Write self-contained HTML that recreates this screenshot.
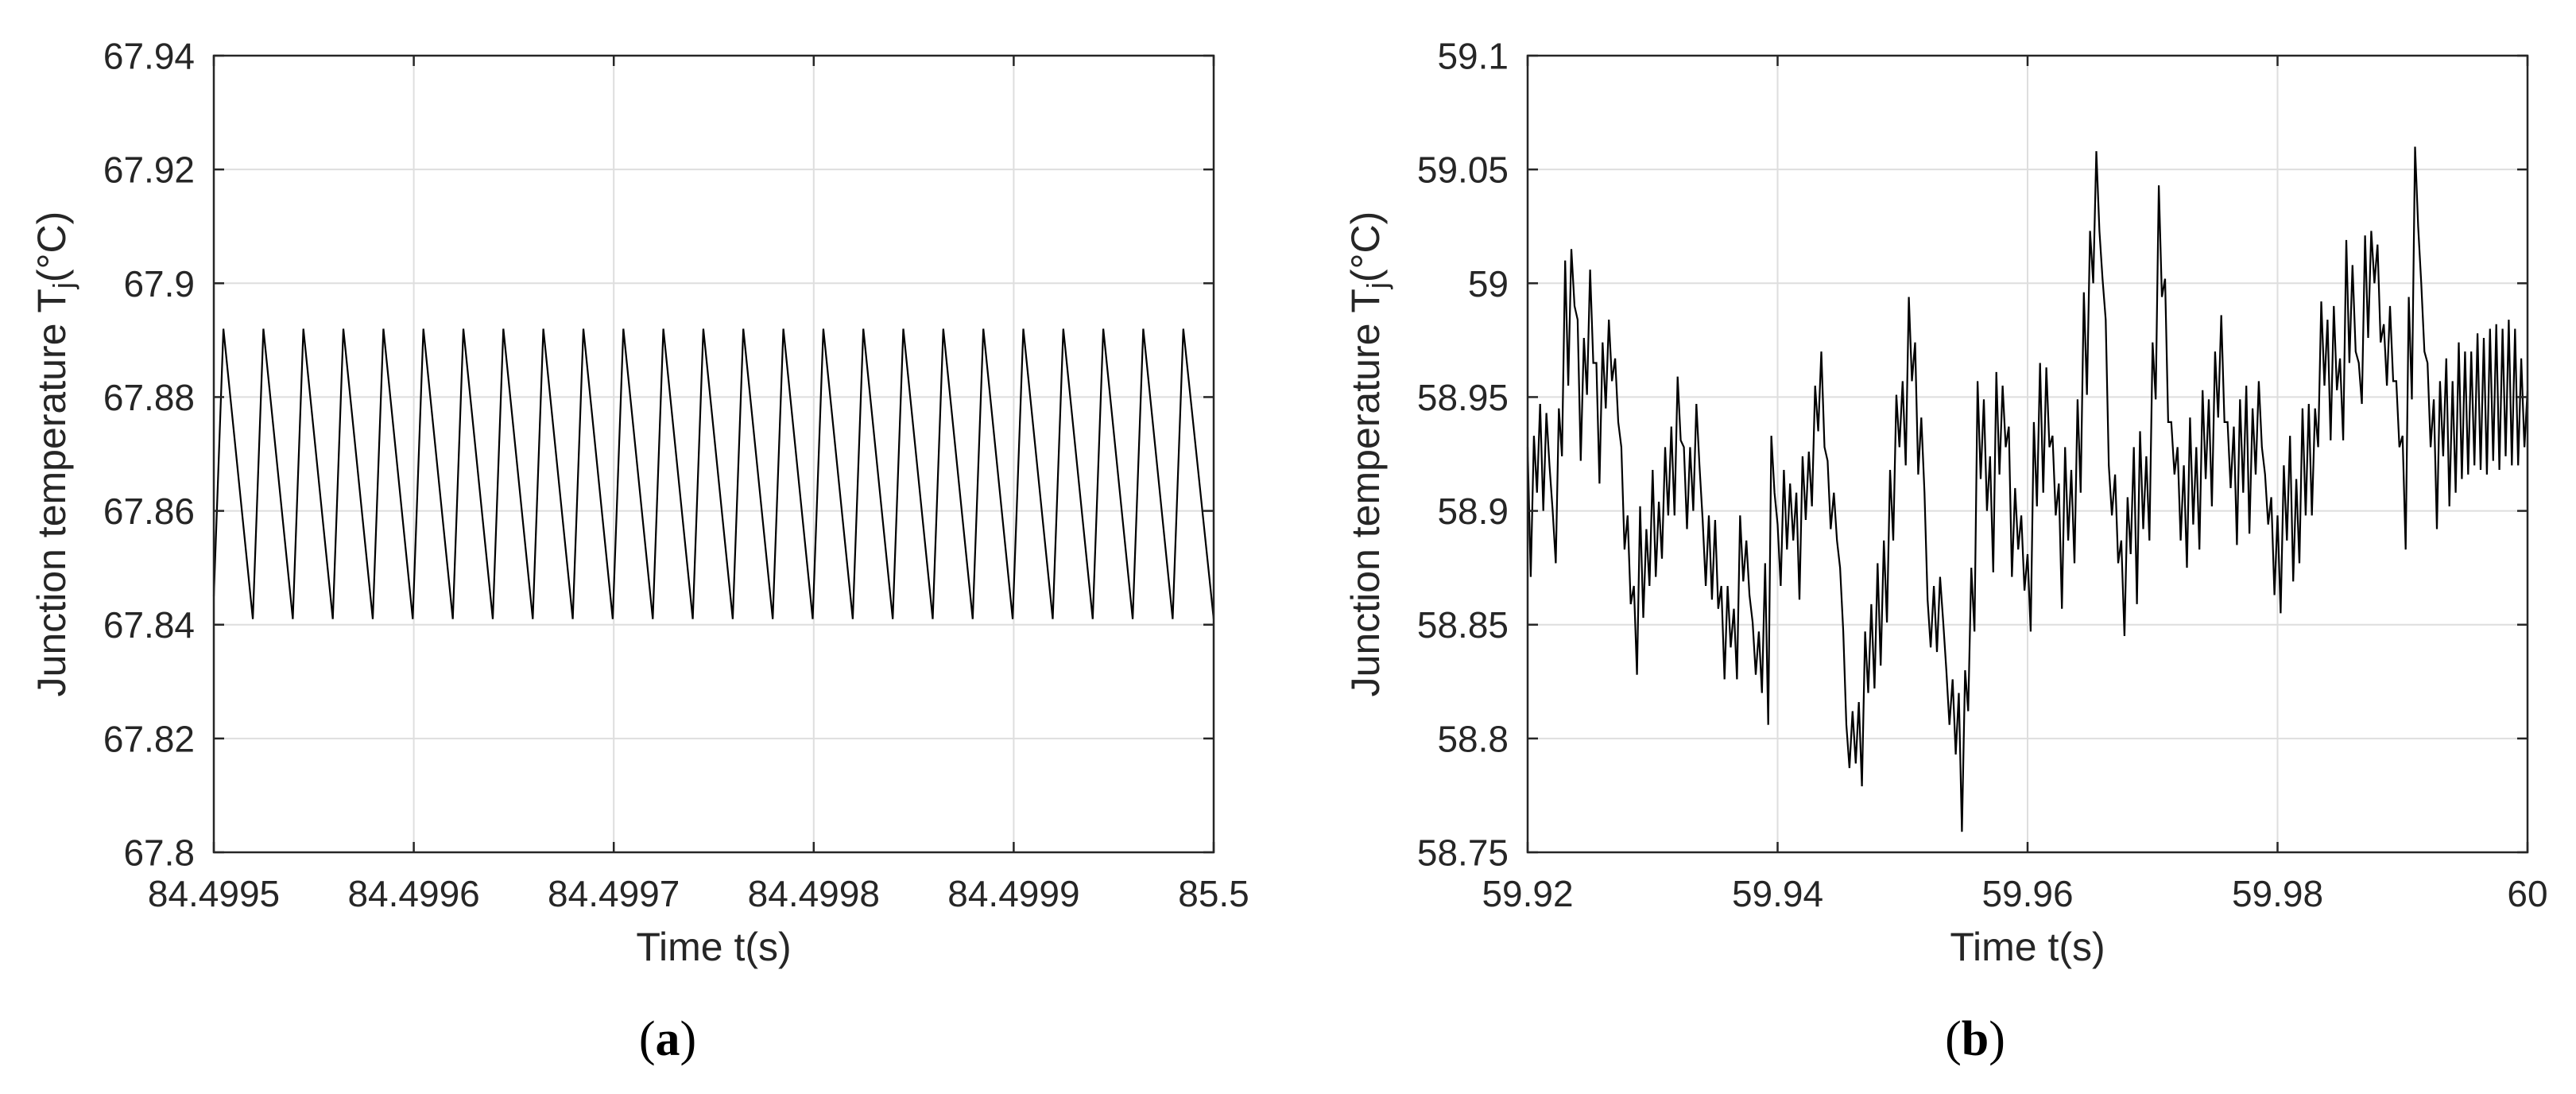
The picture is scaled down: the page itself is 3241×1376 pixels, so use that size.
<!DOCTYPE html>
<html><head><meta charset="utf-8"><style>
html,body{margin:0;padding:0;background:#fff;}
svg{display:block;font-family:"Liberation Sans",sans-serif;}
</style></head><body>
<svg id="fig" width="3241" height="1376" viewBox="0 0 3241 1376" xmlns="http://www.w3.org/2000/svg">
<g id="pa"></g>
<g id="pb"></g>
<text x="840" y="1327" text-anchor="middle" font-family="Liberation Serif, serif" font-size="62">(<tspan font-weight="bold">a</tspan>)</text>
<text x="2485" y="1327" text-anchor="middle" font-family="Liberation Serif, serif" font-size="62">(<tspan font-weight="bold">b</tspan>)</text>
</svg>
<script>
// ---- Panel (a) data ----
const aXTicks = [0, 100, 200, 300, 400, 500]; // µs offset from 84.4995
const aXTickLabels = ["84.4995","84.4996","84.4997","84.4998","84.4999","85.5"];
const aYTicks = [67.8,67.82,67.84,67.86,67.88,67.9,67.92,67.94];
const aYTickLabels = ["67.8","67.82","67.84","67.86","67.88","67.9","67.92","67.94"];
const aT = [0,4.8,19.5,24.8,39.5,44.8,59.5,64.8,79.5,84.8,99.5,104.8,119.5,124.8,139.5,144.8,159.5,164.8,179.5,184.8,199.5,204.8,219.5,224.8,239.5,244.8,259.5,264.8,279.5,284.8,299.5,304.8,319.5,324.8,339.5,344.8,359.5,364.8,379.5,384.8,399.5,404.8,419.5,424.8,439.5,444.8,459.5,464.8,479.5,484.8,500];
const aV = [67.845,67.892,67.841,67.892,67.841,67.892,67.841,67.892,67.841,67.892,67.841,67.892,67.841,67.892,67.841,67.892,67.841,67.892,67.841,67.892,67.841,67.892,67.841,67.892,67.841,67.892,67.841,67.892,67.841,67.892,67.841,67.892,67.841,67.892,67.841,67.892,67.841,67.892,67.841,67.892,67.841,67.892,67.841,67.892,67.841,67.892,67.841,67.892,67.841,67.892,67.841];

// ---- Panel (b) data ----
const bXTicks = [0,20,40,60,80]; // ms offset from 59.92
const bXTickLabels = ["59.92","59.94","59.96","59.98","60"];
const bYTicks = [58.75,58.8,58.85,58.9,58.95,59,59.05,59.1];
const bYTickLabels = ["58.75","58.8","58.85","58.9","58.95","59","59.05","59.1"];
const bT = [0,0.5,1,1.5,2,2.5,3,3.5,4,4.5,5,5.5,6,6.5,7,7.5,8,8.5,9,9.5,10,10.5,11,11.5,12,12.5,13,13.5,14,14.5,15,15.5,16,16.5,17,17.5,18,18.5,19,19.5,20,20.5,21,21.5,22,22.5,23,23.5,24,24.5,25,25.5,26,26.5,27,27.5,28,28.5,29,29.5,30,30.5,31,31.5,32,32.5,33,33.5,34,34.5,35,35.5,36,36.5,37,37.5,38,38.5,39,39.5,40,40.5,41,41.5,42,42.5,43,43.5,44,44.5,45,45.5,46,46.5,47,47.5,48,48.5,49,49.5,50,50.5,51,51.5,52,52.5,53,53.5,54,54.5,55,55.5,56,56.5,57,57.5,58,58.5,59,59.5,60,60.5,61,61.5,62,62.5,63,63.5,64,64.5,65,65.5,66,66.5,67,67.5,68,68.5,69,69.5,70,70.5,71,71.5,72,72.5,73,73.5,74,74.5,75,75.5,76,76.5,77,77.5,78,78.5,79,79.5,80];
const bHi = [58.928,58.933,58.947,58.943,58.900,58.945,59.010,59.015,58.984,58.976,59.006,58.965,58.974,58.984,58.967,58.928,58.898,58.867,58.902,58.892,58.918,58.904,58.928,58.937,58.959,58.928,58.928,58.947,58.896,58.898,58.896,58.867,58.867,58.857,58.898,58.887,58.851,58.847,58.877,58.933,58.894,58.918,58.912,58.908,58.924,58.926,58.955,58.970,58.922,58.908,58.875,58.806,58.812,58.816,58.847,58.859,58.877,58.887,58.918,58.951,58.957,58.994,58.974,58.941,58.861,58.867,58.871,58.830,58.826,58.820,58.830,58.875,58.957,58.949,58.924,58.961,58.955,58.937,58.910,58.898,58.881,58.939,58.965,58.963,58.933,58.912,58.928,58.918,58.949,58.996,59.023,59.058,59.002,58.920,58.916,58.887,58.906,58.928,58.935,58.924,58.974,59.043,59.002,58.939,58.928,58.920,58.941,58.928,58.953,58.949,58.970,58.986,58.939,58.937,58.949,58.955,58.945,58.957,58.916,58.906,58.898,58.920,58.933,58.914,58.945,58.947,58.945,58.992,58.984,58.990,58.967,59.019,59.008,58.965,59.021,59.023,59.017,58.982,58.990,58.957,58.933,58.994,59.060,59.000,58.965,58.949,58.957,58.967,58.957,58.974,58.970,58.970,58.978,58.976,58.980,58.982,58.980,58.984,58.980,58.967,58.953];
const bLo = [58.871,58.908,58.900,58.920,58.877,58.924,58.955,58.990,58.922,58.951,58.965,58.912,58.945,58.957,58.939,58.883,58.859,58.828,58.853,58.867,58.871,58.879,58.898,58.898,58.931,58.892,58.900,58.920,58.867,58.861,58.857,58.826,58.840,58.826,58.869,58.863,58.828,58.820,58.806,58.908,58.867,58.883,58.887,58.861,58.896,58.902,58.935,58.928,58.892,58.887,58.847,58.787,58.789,58.779,58.820,58.822,58.832,58.851,58.887,58.928,58.920,58.957,58.916,58.908,58.840,58.838,58.851,58.806,58.793,58.759,58.812,58.847,58.914,58.900,58.873,58.916,58.928,58.871,58.883,58.865,58.847,58.902,58.908,58.928,58.898,58.857,58.887,58.877,58.908,58.951,59.000,59.023,58.984,58.898,58.877,58.845,58.881,58.859,58.892,58.887,58.949,58.994,58.939,58.916,58.887,58.875,58.894,58.883,58.914,58.902,58.941,58.939,58.910,58.885,58.908,58.890,58.916,58.928,58.894,58.863,58.855,58.887,58.869,58.877,58.898,58.898,58.928,58.955,58.931,58.953,58.931,58.965,58.970,58.947,58.976,59.000,58.974,58.955,58.957,58.928,58.883,58.949,59.025,58.970,58.928,58.892,58.924,58.902,58.908,58.914,58.916,58.920,58.918,58.916,58.922,58.918,58.924,58.920,58.920,58.928,58.945];

const NS = "http://www.w3.org/2000/svg";
function mk(tag, attrs, parent){ const e=document.createElementNS(NS,tag); for(const k in attrs) e.setAttribute(k,attrs[k]); parent.appendChild(e); return e; }

function drawPanel(g, L, R, T, B, xMin, xMax, yMin, yMax, xTicks, xLabels, yTicks, yLabels, pts){
  const sx = v => L + (v - xMin) / (xMax - xMin) * (R - L);
  const sy = v => B - (v - yMin) / (yMax - yMin) * (B - T);
  // grid
  xTicks.forEach((t,i)=>{ if(i>0 && i<xTicks.length-1){ const l=mk('line',{x1:sx(t),x2:sx(t),y1:T,y2:B,stroke:'#dedede','stroke-width':2},g);
    
     }});
  yTicks.forEach((t,i)=>{ if(i>0 && i<yTicks.length-1){ const l=mk('line',{x1:L,x2:R,y1:sy(t),y2:sy(t),stroke:'#dedede','stroke-width':2},g);
    
     }});
  // series
  const d = pts.map((p,i)=>(i?'L':'M')+sx(p[0]).toFixed(1)+' '+sy(p[1]).toFixed(1)).join(' ');
  const path = mk('path',{d:d,fill:'none',stroke:'#000','stroke-width':2.2,'stroke-linejoin':'miter'},g);
  
  
  // ticks
  xTicks.forEach((t,i)=>{ const x=sx(t);
    const a=mk('line',{x1:x,x2:x,y1:B,y2:B-13,stroke:'#262626','stroke-width':2.5},g);
    
    
    const b=mk('line',{x1:x,x2:x,y1:T,y2:T+13,stroke:'#262626','stroke-width':2.5},g);
    
    
    const tx=mk('text',{x:x,y:1140,'text-anchor':'middle','font-size':46,fill:'#262626'},g);
    tx.textContent=xLabels[i];
    
    
  });
  yTicks.forEach((t,i)=>{ const y=sy(t);
    const a=mk('line',{x1:L,x2:L+13,y1:y,y2:y,stroke:'#262626','stroke-width':2.5},g);
    
    
    const b=mk('line',{x1:R,x2:R-13,y1:y,y2:y,stroke:'#262626','stroke-width':2.5},g);
    
    
    const tx=mk('text',{x:L-24,y:y+16.5,'text-anchor':'end','font-size':46,fill:'#262626'},g);
    tx.textContent=yLabels[i];
    
    
  });
  // box
  const box=mk('rect',{x:L,y:T,width:R-L,height:B-T,fill:'none',stroke:'#262626','stroke-width':2.5},g);
  
  
  // axis titles
  const xl=mk('text',{x:(L+R)/2,y:1208,'text-anchor':'middle','font-size':50,fill:'#262626'},g);
  xl.textContent='Time t(s)';
  
  
  const cx=L-204, cy=(T+B)/2;
  const yl=mk('text',{x:cx,y:cy,'text-anchor':'middle','font-size':50,fill:'#262626',transform:`rotate(-90 ${cx} ${cy}) translate(0 17)`},g);
  
  
  yl.innerHTML='Junction temperature T<tspan font-size="36" dy="10">j</tspan><tspan dy="-10">(°C)</tspan>';
}

const aPts = aT.map((t,i)=>[t,aV[i]]);
drawPanel(document.getElementById('pa'),269,1527,70,1072,0,500,67.8,67.94,aXTicks,aXTickLabels,aYTicks,aYTickLabels,aPts);

const bPts = [];
bT.forEach((t,i)=>{ bPts.push([t,bHi[i]]); if(i<bT.length-1) bPts.push([t+0.25,bLo[i]]); else bPts.push([t,bLo[i]]); });
drawPanel(document.getElementById('pb'),1922,3180,70,1072,0,80,58.75,59.1,bXTicks,bXTickLabels,bYTicks,bYTickLabels,bPts);
</script>
</body></html>
